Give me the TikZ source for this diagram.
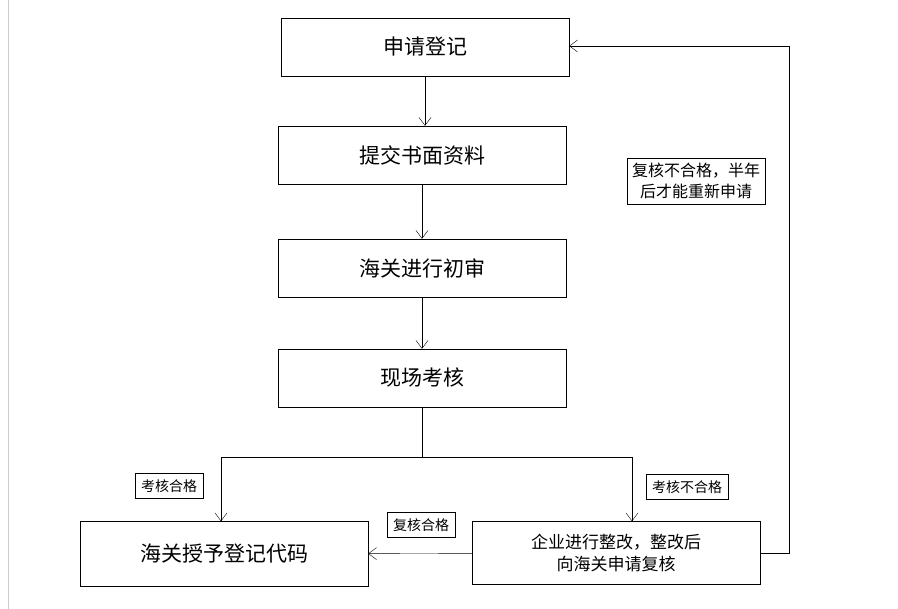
\documentclass[tikz,border=0pt]{standalone}
\usepackage{fontspec}
\setmainfont{Noto Sans CJK SC}
\usetikzlibrary{positioning, arrows.meta}
\tikzset{
  stage/.style={draw, minimum width=288pt, minimum height=58pt, font=\fontsize{21}{25}\selectfont},
  tag/.style={draw, font=\fontsize{14}{16}\selectfont, inner sep=6pt},
  flow/.style={-{Straight Barb[length=8pt, width=12pt]}}
}
\begin{document}
\begin{tikzpicture}[x=1pt, y=-1pt]
  \useasboundingbox[fill=white] (0,0) rectangle (898,609);
  \draw[gray!40] (8,0) -- (8,609);
  \node[stage] (apply) at (425,47) {申请登记};
  \node[stage] (submit) at (422,155) {提交书面资料};
  \node[stage] (review) at (422,268) {海关进行初审};
  \node[stage] (check) at (422,378) {现场考核};
  \node[stage, minimum height=65pt] (grant) at (224,554) {海关授予登记代码};
  \node[stage, minimum height=63pt, font=\fontsize{17}{22}\selectfont, align=center] (fix) at (616,553) {企业进行整改，整改后\\向海关申请复核};
  \coordinate (split) at (422,457);
  \coordinate (splitl) at (221,457);
  \coordinate (splitr) at (632,457);
  \coordinate (loopd) at (789,553);
  \coordinate (loopu) at (789,46);

  \draw[flow] (apply) -- (apply |- submit.north);
  \draw[flow] (submit) -- (review);
  \draw[flow] (review) -- (check);
  \draw (check) -- (split);
  \draw[flow] (splitr) -- (splitl) -- (splitl |- grant.north);
  \draw[flow] (splitr) -- (splitr |- fix.north);
  \draw[flow] (fix) -- (grant);
  \draw[flow] (fix.east) -- (loopd) -- (loopu) -- (apply.east |- loopu);

  \node[tag] (pass) at (169,486) {考核合格};
  \node[tag] (fail) at (687,487) {考核不合格};
  \node[tag] (repass) at (421,525) {复核合格};
  \node[tag, align=center, font=\fontsize{16}{21}\selectfont, inner sep=5pt] (refail) at (696,181) {复核不合格，半年\\后才能重新申请};
\end{tikzpicture}
\end{document}
